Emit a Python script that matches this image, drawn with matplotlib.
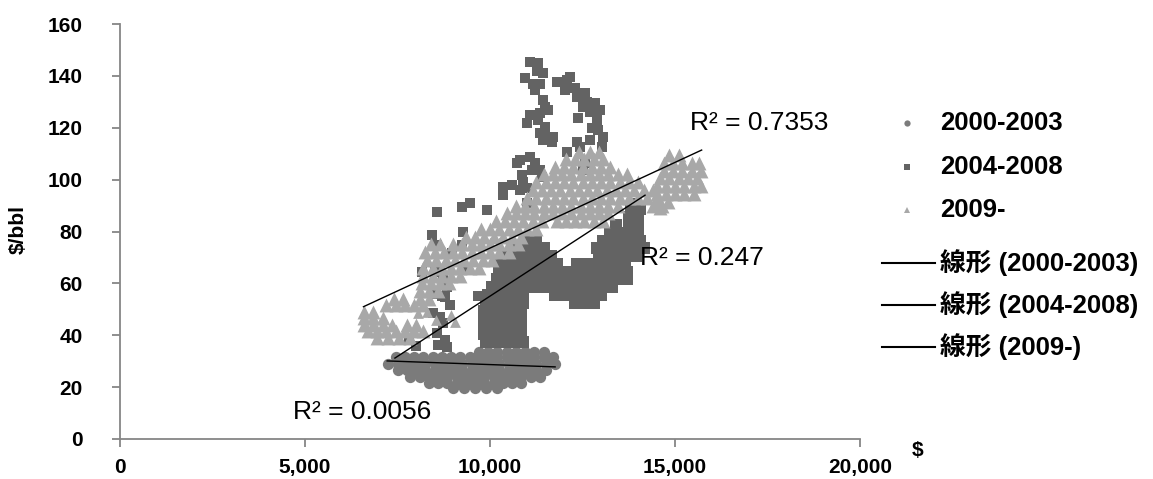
import matplotlib
matplotlib.use('Agg')
import matplotlib.pyplot as plt
from matplotlib.lines import Line2D
from matplotlib.ticker import FuncFormatter

plt.rcParams['font.family'] = ['Liberation Sans', 'Noto Sans CJK JP', 'DejaVu Sans']
plt.rcParams['xtick.major.pad'] = 8
plt.rcParams['ytick.major.pad'] = 21

series_names = ['2000-2003', '2004-2008', '2009-']
series_colors = ['#7b7b7b', '#636363', '#a8a8a8']
series_markers = ['o', 's', '^']

# values, as (y, [x, ...]) rows
rows_0003 = [
    (33.5, [9700, 9950, 10200, 10450, 10700, 10950, 11200, 11450]),
    (31.5, [7450, 7700, 7950, 8200, 8450, 8700, 8950, 9200, 9450, 9700, 9950,
            10200, 10450, 10700, 10950, 11200, 11450, 11700]),
    (29.0, [7250, 7500, 7750, 8000, 8250, 8500, 8750, 9000, 9250, 9500, 9750,
            10000, 10250, 10500, 10750, 11000, 11250, 11500, 11750]),
    (26.5, [7500, 7750, 8000, 8250, 8500, 8750, 9000, 9250, 9500, 9750, 10000,
            10250, 10500, 10750, 11000, 11250, 11500]),
    (24.0, [7850, 8100, 8350, 8600, 8850, 9100, 9350, 9600, 9850, 10100, 10350,
            10600, 10850, 11100, 11350]),
    (21.5, [8350, 8600, 8850, 9100, 9350, 9600, 9850, 10100, 10350, 10600, 10850]),
    (19.5, [9000, 9300, 9600, 9900, 10200]),
]

rows_0408 = [
    (37.5, [9900, 10150, 10400, 10650, 10900]),
    (40.5, [9850, 10100, 10350, 10600, 10850]),
    (43.5, [9850, 10100, 10350, 10600, 10850]),
    (46.5, [9850, 10100, 10350, 10600, 10850]),
    (49.5, [9850, 10100, 10350, 10600, 10850]),
    (52.5, [9900, 10150, 10400, 10650, 10900, 12300, 12550, 12800]),
    (55.5, [9950, 10200, 10450, 10700, 10900, 11750, 12000, 12250, 12500, 12750, 13000]),
    (58.5, [10050, 10300, 10550, 10800, 11050, 11300, 11550, 11800, 12050, 12300,
            12550, 12800, 13050, 13300]),
    (61.5, [10200, 10450, 10700, 10950, 11200, 11450, 11700, 11950, 12200, 12450,
            12700, 12950, 13200, 13450, 13700]),
    (64.5, [10250, 10500, 10750, 11000, 11250, 11500, 11750, 12000, 12250, 12500,
            12750, 13000, 13250, 13500, 13700]),
    (67.5, [10300, 10550, 10800, 11050, 11300, 11550, 11800, 12350, 12650,
            12900, 13150, 13400, 13650]),
    (70.5, [10400, 10650, 10900, 11150, 11400, 11650, 12950, 13200, 13450, 13700, 13950]),
    (73.5, [10700, 10950, 11200, 11450, 12900, 13150, 13400, 13650, 13900, 14150]),
    (76.5, [11000, 11250, 13050, 13300, 13550, 13800, 14050]),
    (79.5, [13250, 13500, 13750, 14000]),
    (82.5, [13400, 13750, 14000]),
    (85.5, [13750, 14000]),
    (88.5, [13800, 14050]),
    (90.5, [13950]),
]

# scattered 2004-2008 squares, upper loop and left side
pts_0408_upper = [
    (11080, 145.5), (11300, 145), (11270, 142), (11430, 141), (10950, 139),
    (11160, 137), (11350, 137), (11220, 134.5), (11430, 130.7), (11490, 128),
    (11570, 126.8), (11350, 125.7), (11080, 124.9), (11300, 123), (11000, 121.8),
    (11490, 120.3), (11350, 118), (11540, 116.4), (11700, 116.4), (11430, 115.3),
    (11680, 114.5), (11810, 137.6), (12080, 138.4), (12160, 139.6), (12030, 134.5),
    (12300, 135.3), (12350, 131.8), (12570, 133.4), (12620, 129.9), (12840, 129.5),
    (12510, 128), (12970, 126.8), (12700, 126), (12890, 123), (12380, 123.7),
    (12760, 119.9), (12920, 119.1), (13060, 116.4), (13030, 112.6), (12700, 115.3),
    (12350, 114.5), (12430, 112.6), (12080, 110.6), (12570, 106.4), (12510, 103.7),
    (10810, 107.6), (11080, 108.7), (11220, 106.4), (11350, 103.7), (11140, 103.7),
    (11410, 101), (10870, 101.8), (10900, 99.1), (11000, 96.8), (10350, 97.1),
    (10590, 97.9), (10350, 94), (10810, 96), (10730, 106.4),
]
pts_0408_left = [
    (8570, 87.5), (9240, 89.4), (9460, 91), (9920, 88.3), (9270, 79.8),
    (8430, 78.6), (8570, 74.8), (8970, 71.7), (9240, 74.8), (8160, 64.4),
    (8510, 64.4), (8730, 62.5), (9270, 65.1), (8840, 58.6), (8780, 54.7),
    (8920, 51.7), (9680, 55.1), (11000, 91), (8460, 48.6), (8650, 47),
    (8730, 44.7), (8570, 40.9), (8780, 38.2), (8600, 36.2), (8840, 35.5),
    (8500, 56), (8700, 55), (7800, 38), (8000, 36),
]

rows_09 = [
    (49.0, [6600, 6850]),
    (46.5, [6600, 6850, 7100]),
    (44.0, [6600, 6850, 7100, 7350, 7750, 8000]),
    (41.5, [6700, 6950, 7200, 7450, 7700, 7950, 8200]),
    (39.0, [6950, 7250, 7550, 7850]),
    (51.5, [7200, 7450, 7700, 7950, 8200]),
    (54.0, [7400, 7650, 8100, 8350]),
    (57.0, [8100, 8350, 8600]),
    (60.0, [8150, 8400, 8650, 8900]),
    (63.0, [8200, 8450, 8700, 8950, 9200]),
    (66.0, [8200, 8450, 8700, 8950, 9200, 9450, 9700]),
    (69.0, [8300, 8550, 8800, 9050, 9300, 9550, 9800, 10050]),
    (72.0, [8250, 8500, 8750, 9000, 9250, 9500, 9750, 10000, 10250, 10500]),
    (75.0, [8400, 8650, 9000, 9250, 9500, 9750, 10000, 10250, 10500, 10750]),
    (78.0, [9350, 9600, 9850, 10100, 10350, 10600, 10850]),
    (81.0, [9750, 10000, 10250, 10500, 10750, 11000, 11250]),
    (84.0, [10150, 10400, 10650, 10900, 11150, 11400, 11800, 12050, 12300, 12550,
            12800, 13050]),
    (87.0, [10450, 10700, 10950, 11200, 11450, 11700, 11950, 12200, 12450, 12700,
            12950, 13200]),
    (90.0, [10700, 10950, 11200, 11450, 11700, 11950, 12200, 12450, 12700, 12950,
            13200, 13450, 14400, 14650]),
    (93.0, [11000, 11250, 11500, 11750, 12000, 12250, 12500, 12750, 13000, 13250,
            13500, 13750, 14000, 14250, 14500]),
    (96.0, [11150, 11400, 11650, 11900, 12150, 12400, 12650, 12900, 13150, 13400,
            13650, 13900, 14150, 14400]),
    (99.0, [11250, 11500, 11750, 12000, 12250, 12500, 12750, 13000, 13250, 13500,
            13750, 14000]),
    (102.0, [11450, 11700, 11950, 12200, 12450, 12700, 12950, 13200, 13450, 13700]),
    (105.0, [11750, 12000, 12250, 12500, 12750, 13000, 13250]),
    (108.0, [12050, 12300, 12550, 12800, 13050]),
    (110.5, [12400, 12700, 12950]),
    (109.5, [14850, 15100]),
    (106.5, [14700, 14950, 15200, 15450, 15650]),
    (103.5, [14700, 14950, 15200, 15450, 15700]),
    (100.5, [14600, 14850, 15100, 15350, 15600]),
    (97.5, [14500, 14750, 15000, 15250, 15500, 15700]),
    (94.5, [14500, 14750, 15000, 15250, 15500]),
    (91.5, [14550, 14800]),
    (89.0, [14600]),
]
pts_09_extra = [(8050, 48.5), (8300, 49), (8550, 46), (8950, 48), (9050, 45)]

# linear trend lines (start, end)
trend_0003_x, trend_0003_y = [7220, 11760], [30.1, 27.8]
trend_0408_x, trend_0408_y = [7430, 14190], [31.2, 94.0]
trend_09_x, trend_09_y = [6580, 15720], [51.0, 111.4]
r2_texts = ['R² = 0.0056', 'R² = 0.247', 'R² = 0.7353']


def flatten(rows):
    xs, ys = [], []
    for y, xlist in rows:
        for x in xlist:
            xs.append(x)
            ys.append(y)
    return xs, ys


W, H = 1153, 479
fig = plt.figure(figsize=(W / 100, H / 100), dpi=100)
ax = fig.add_axes([120 / W, 40 / H, 740 / W, 415 / H])

# dense clusters (rows) and loose points, in series order
dense = [flatten(rows_0003), flatten(rows_0408), flatten(rows_09)]
loose = [([], []), tuple(zip(*(pts_0408_upper + pts_0408_left))), tuple(zip(*pts_09_extra))]
dense_sizes = [66, 64, 100]
loose_sizes = [40, 46, 60]
for i in range(3):
    ax.scatter(dense[i][0], dense[i][1], s=dense_sizes[i], marker=series_markers[i],
               c=series_colors[i], linewidths=0, zorder=2 + i)
    if len(loose[i][0]):
        ax.scatter(loose[i][0], loose[i][1], s=loose_sizes[i], marker=series_markers[i],
                   c=series_colors[i], linewidths=0, zorder=2 + i)

for tx, ty in [(trend_0003_x, trend_0003_y), (trend_0408_x, trend_0408_y),
               (trend_09_x, trend_09_y)]:
    ax.plot(tx, ty, color='black', lw=1.0, zorder=6)

ax.text(4680, 10.4, r2_texts[0], fontsize=19, va='center', ha='left')
ax.text(14060, 69.8, r2_texts[1], fontsize=19, va='center', ha='left')
ax.text(15410, 121.8, r2_texts[2], fontsize=19, va='center', ha='left')

ax.set_xlim(0, 20000)
ax.set_ylim(0, 160)
ax.set_xticks([0, 5000, 10000, 15000, 20000])
ax.set_yticks(range(0, 161, 20))
ax.xaxis.set_major_formatter(FuncFormatter(lambda v, p: f'{int(v):,}'))
for side in ['top', 'right']:
    ax.spines[side].set_visible(False)
for side in ['left', 'bottom']:
    ax.spines[side].set_color('#868686')
    ax.spines[side].set_linewidth(1.3)
ax.tick_params(direction='out', length=6, width=1.3, color='#868686', labelsize=15)
ax.yaxis.set_tick_params(pad=21)
for lab in ax.get_xticklabels() + ax.get_yticklabels():
    lab.set_fontweight('bold')

fig.text(18 / W, 1 - 230 / H, '$/bbl', rotation=90, fontsize=15,
         fontweight='bold', ha='center', va='center')
fig.text(918 / W, 1 - 450 / H, '$', fontsize=15, fontweight='bold',
         ha='center', va='center')

# legend drawn by hand so the rows sit where they are in the chart
legend_labels = series_names + ['線形 (' + n + ')' for n in series_names]
legend_rows_px = [123, 167, 210, 263, 305, 347]
for i, label in enumerate(legend_labels):
    yf = 1 - legend_rows_px[i] / H
    if i < 3:
        fig.add_artist(Line2D([907 / W], [yf], ls='', marker=series_markers[i],
                              markersize=4.5, color=series_colors[i],
                              markeredgewidth=0))
    else:
        fig.add_artist(Line2D([882 / W, 935 / W], [yf, yf], color='black', lw=1.5))
    fig.text(940 / W, yf, label, fontsize=18.5, fontweight='bold',
             ha='left', va='center')

fig.savefig('out.png', dpi=100)
